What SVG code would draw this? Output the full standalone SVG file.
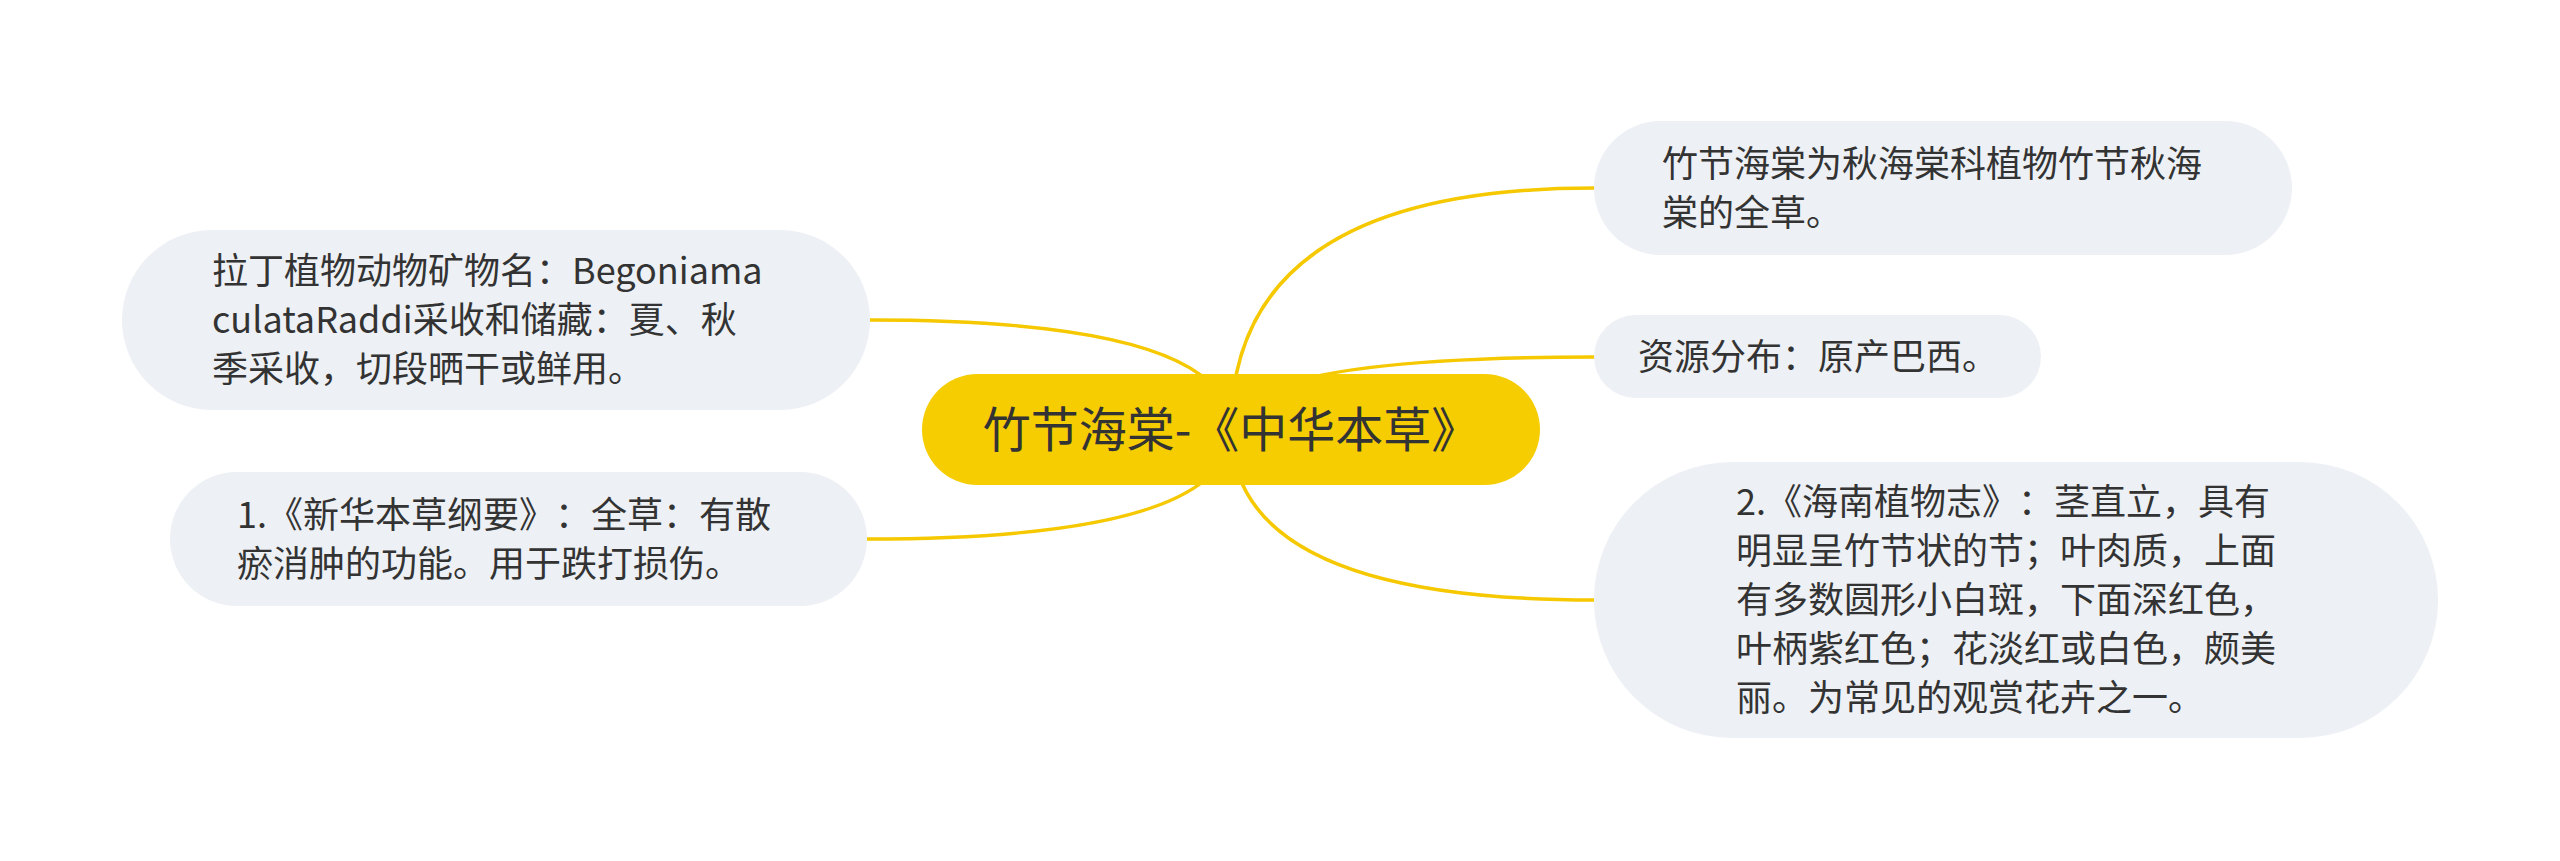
<svg xmlns="http://www.w3.org/2000/svg" width="2560" height="861" viewBox="0 0 2560 861">
<style>
.bg{fill:#ffffff}
.conn{fill:none;stroke:#F5C800;stroke-width:3.5;stroke-linecap:round}
.sub{fill:#EDF0F4}
.root{fill:#F5CD00}
text{text-spacing-trim:space-all}
.t{font-family:"Noto Sans CJK SC","Microsoft YaHei",sans-serif;fill:#333333;font-size:36px}
.rt{font-family:"Noto Sans CJK SC","Microsoft YaHei",sans-serif;fill:#333333;font-size:48px}
</style>
<rect class="bg" x="0" y="0" width="2560" height="861"/>
<g id="connectors">
<path class="conn" d="M1231,429 Q1231,188 1594,188"/>
<path class="conn" d="M1231,429 Q1231,357 1594,357"/>
<path class="conn" d="M1231,429 Q1231,600 1594,600"/>
<path class="conn" d="M1231,429 Q1231,320 870,320"/>
<path class="conn" d="M1231,429 Q1231,539 867,539"/>
</g>
<g id="root">
<rect class="root" x="922" y="374" width="618" height="111" rx="55.5"/>
<text class="rt" x="1231" y="447" text-anchor="middle">竹节海棠-《中华本草》</text>
</g>
<g id="node-left1">
<rect class="sub" x="122" y="230" width="748" height="180" rx="90"/>
<text class="t" x="212" y="284">拉丁植物动物矿物名：Begoniama</text>
<text class="t" x="212" y="333">culataRaddi采收和储藏：夏、秋</text>
<text class="t" x="212" y="382">季采收，切段晒干或鲜用。</text>
</g>
<g id="node-left2">
<rect class="sub" x="170" y="472" width="697" height="134" rx="67"/>
<text class="t" x="237" y="528">1.《新华本草纲要》：全草：有散</text>
<text class="t" x="237" y="577">瘀消肿的功能。用于跌打损伤。</text>
</g>
<g id="node-right1">
<rect class="sub" x="1594" y="121" width="698" height="134" rx="67"/>
<text class="t" x="1662" y="177">竹节海棠为秋海棠科植物竹节秋海</text>
<text class="t" x="1662" y="226">棠的全草。</text>
</g>
<g id="node-right2">
<rect class="sub" x="1594" y="315" width="447" height="83" rx="41.5"/>
<text class="t" x="1638" y="370">资源分布：原产巴西。</text>
</g>
<g id="node-right3">
<rect class="sub" x="1594" y="462" width="844" height="276" rx="138"/>
<text class="t" x="1736" y="515">2.《海南植物志》：茎直立，具有</text>
<text class="t" x="1736" y="564">明显呈竹节状的节；叶肉质，上面</text>
<text class="t" x="1736" y="613">有多数圆形小白斑，下面深红色，</text>
<text class="t" x="1736" y="662">叶柄紫红色；花淡红或白色，颇美</text>
<text class="t" x="1736" y="711">丽。为常见的观赏花卉之一。</text>
</g>
</svg>
